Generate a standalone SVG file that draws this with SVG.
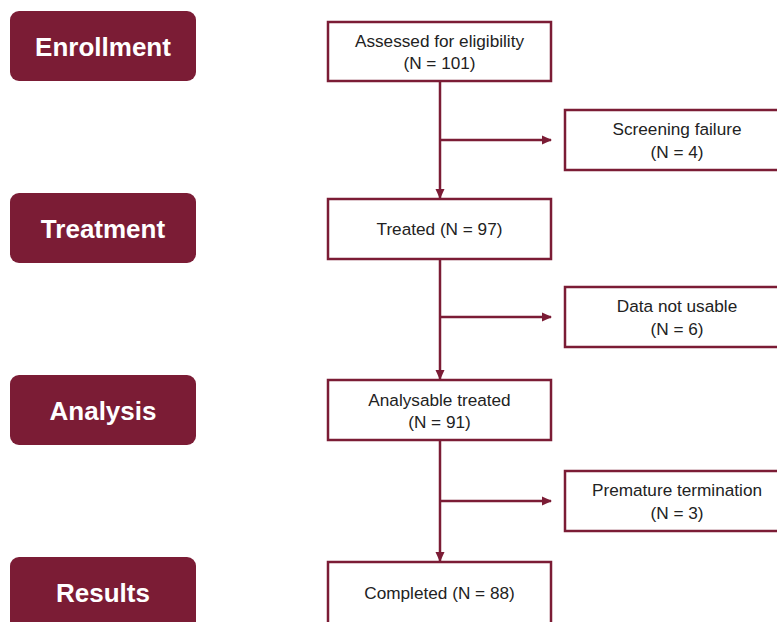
<svg xmlns="http://www.w3.org/2000/svg" width="777" height="622" viewBox="0 0 777 622">
<style>
.lab rect{fill:#7b1c35;}
.lab text{fill:#fff;font-family:"Liberation Sans",Arial,sans-serif;font-weight:bold;font-size:26px;text-anchor:middle;}
.box rect{fill:#fff;stroke:#7b1c35;stroke-width:2.5;}
.box text{fill:#222;font-family:"Liberation Sans",Arial,sans-serif;font-size:17.2px;text-anchor:middle;}
.con line{stroke:#7b1c35;stroke-width:2.5;fill:none;}
</style>
<defs>
<marker id="ah" markerWidth="10" markerHeight="10" refX="9" refY="5" orient="auto" markerUnits="userSpaceOnUse">
<path d="M0,0.5 L10,5 L0,9.5 Z" fill="#7b1c35"/>
</marker>
</defs>
<rect width="777" height="622" fill="#fff"/>
<g class="con">
<line x1="440" y1="81" x2="440" y2="198" marker-end="url(#ah)"/>
<line x1="440" y1="140" x2="551" y2="140" marker-end="url(#ah)"/>
<line x1="440" y1="259" x2="440" y2="379" marker-end="url(#ah)"/>
<line x1="440" y1="317" x2="551" y2="317" marker-end="url(#ah)"/>
<line x1="440" y1="440" x2="440" y2="561" marker-end="url(#ah)"/>
<line x1="440" y1="501" x2="551" y2="501" marker-end="url(#ah)"/>
</g>
<g id="enrollment" class="lab"><rect x="10" y="11" width="186" height="70" rx="9"/><text x="103" y="56">Enrollment</text></g>
<g id="treatment" class="lab"><rect x="10" y="193" width="186" height="70" rx="9"/><text x="103" y="238">Treatment</text></g>
<g id="analysis" class="lab"><rect x="10" y="375" width="186" height="70" rx="9"/><text x="103" y="420">Analysis</text></g>
<g id="results" class="lab"><rect x="10" y="557" width="186" height="75" rx="9"/><text x="103" y="602">Results</text></g>
<g id="assessed" class="box"><rect x="328" y="22" width="223" height="59"/><text x="439.5" y="47">Assessed for eligibility</text><text x="439.5" y="69">(N = 101)</text></g>
<g id="treated" class="box"><rect x="328" y="199" width="223" height="60"/><text x="439.5" y="235">Treated (N = 97)</text></g>
<g id="analysable" class="box"><rect x="328" y="380" width="223" height="60"/><text x="439.5" y="406">Analysable treated</text><text x="439.5" y="428">(N = 91)</text></g>
<g id="completed" class="box"><rect x="328" y="562" width="223" height="70"/><text x="439.5" y="599">Completed (N = 88)</text></g>
<g id="screening" class="box"><rect x="565" y="110" width="220" height="60"/><text x="677" y="135">Screening failure</text><text x="677" y="158">(N = 4)</text></g>
<g id="datanot" class="box"><rect x="565" y="287" width="220" height="60"/><text x="677" y="312">Data not usable</text><text x="677" y="335">(N = 6)</text></g>
<g id="premature" class="box"><rect x="565" y="471" width="220" height="60"/><text x="677" y="496">Premature termination</text><text x="677" y="519">(N = 3)</text></g>
</svg>
